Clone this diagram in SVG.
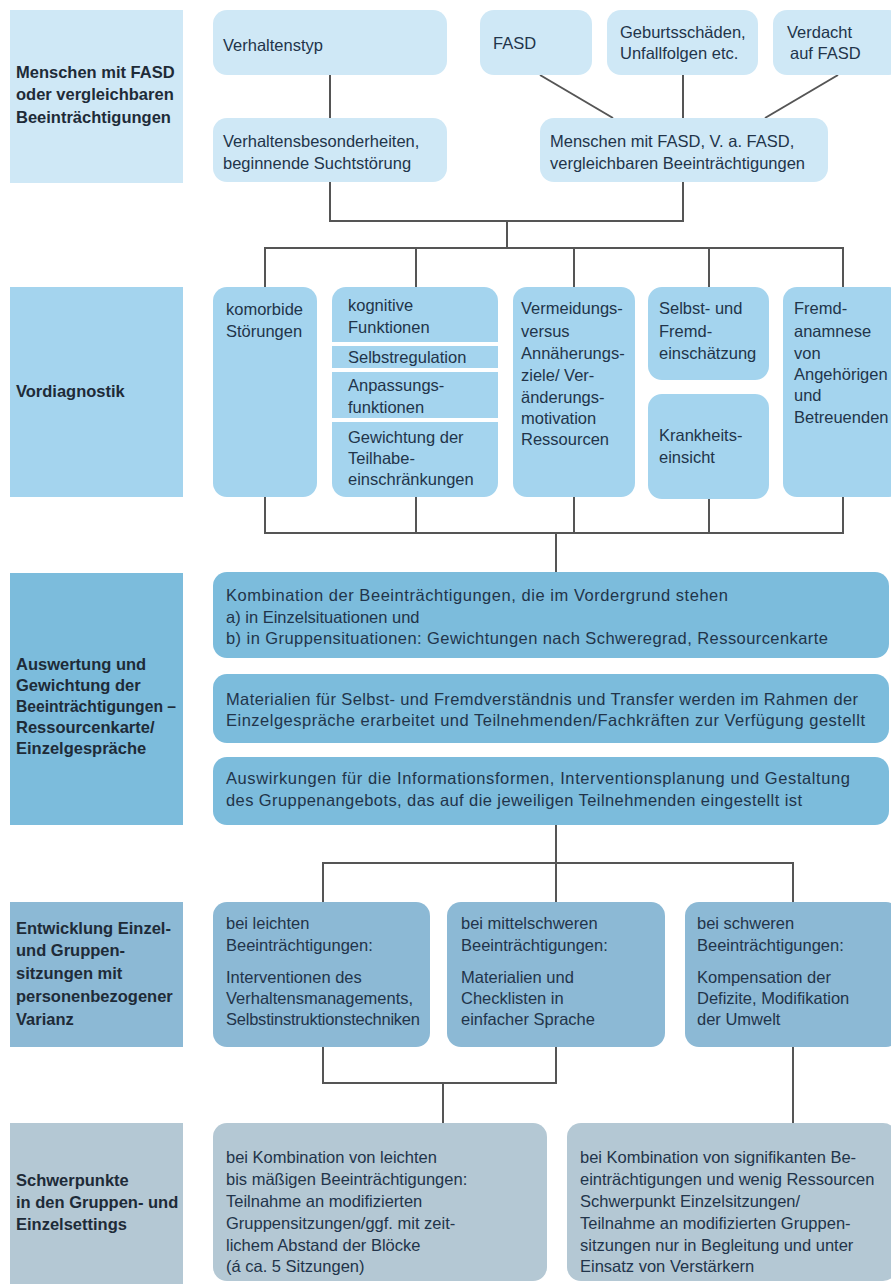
<svg xmlns="http://www.w3.org/2000/svg" width="891" height="1284" viewBox="0 0 891 1284">
<style>
text{font-family:"Liberation Sans",Arial,sans-serif;font-size:16.5px;fill:#22344a}
.b{font-weight:bold;fill:#1e2b38}
.s1{fill:#cfe8f6}.s2{fill:#a4d4ee}.s3{fill:#7cbcdc}.s4{fill:#8cb9d5}.s5{fill:#b4c8d4}
.c{fill:none;stroke:#555;stroke-width:2}
.w{fill:#ffffff}
</style>
<rect width="891" height="1284" fill="#ffffff"/>
<g id="connectors" class="c">
<path d="M330 75V118"/>
<path d="M540 75L613 118"/>
<path d="M683 75V118"/>
<path d="M838 75L765 118"/>
<path d="M330 182V221H683V182"/>
<path d="M507 221V248"/>
<path d="M265 287V248H843V287"/>
<path d="M416 248V287M574 248V287M709 248V287"/>
<path d="M265 497V533H843V497"/>
<path d="M416 497V533M574 497V533M709 499V533"/>
<path d="M556 533V572"/>
<path d="M556 825V863"/>
<path d="M323 902V863H793V902"/>
<path d="M556 863V902"/>
<path d="M323 1047V1083H556V1047"/>
<path d="M443 1083V1123"/>
<path d="M793 1047V1123"/>
</g>
<g id="label1"><rect class="s1" x="10" y="10" width="173" height="173"/>
<text class="b" x="16" y="78">Menschen mit FASD</text>
<text class="b" x="16" y="100">oder vergleichbaren</text>
<text class="b" x="16" y="123">Beeinträchtigungen</text></g>
<g id="verhaltenstyp"><rect class="s1" x="213" y="10" width="234" height="65" rx="14"/>
<text x="223" y="51">Verhaltenstyp</text></g>
<g id="verhaltensbesonderheiten"><rect class="s1" x="213" y="118" width="234" height="64" rx="14"/>
<text x="223" y="147">Verhaltensbesonderheiten,</text>
<text x="223" y="169">beginnende Suchtstörung</text></g>
<g id="fasd"><rect class="s1" x="480" y="10" width="112" height="65" rx="14"/>
<text x="493" y="49">FASD</text></g>
<g id="geburtsschaeden"><rect class="s1" x="607" y="10" width="151" height="65" rx="14"/>
<text x="620" y="38">Geburtsschäden,</text>
<text x="620" y="59">Unfallfolgen etc.</text></g>
<g id="verdacht"><rect class="s1" x="773" y="10" width="130" height="65" rx="14"/>
<text x="787" y="38">Verdacht</text>
<text x="790" y="59">auf FASD</text></g>
<g id="menschen"><rect class="s1" x="540" y="118" width="288" height="64" rx="14"/>
<text x="550" y="147">Menschen mit FASD, V. a. FASD,</text>
<text x="550" y="169">vergleichbaren Beeinträchtigungen</text></g>

<g id="label2"><rect class="s2" x="10" y="287" width="173" height="210"/>
<text class="b" x="16" y="397">Vordiagnostik</text></g>
<g id="komorbide"><rect class="s2" x="213" y="287" width="104" height="210" rx="14"/>
<text x="226" y="315">komorbide</text>
<text x="226" y="337">Störungen</text></g>
<g id="kognitive"><rect class="s2" x="332" y="287" width="166" height="210" rx="14"/>
<rect class="w" x="332" y="342" width="166" height="4"/>
<rect class="w" x="332" y="368" width="166" height="4"/>
<rect class="w" x="332" y="418" width="166" height="4"/>
<text x="348" y="311">kognitive</text>
<text x="348" y="333">Funktionen</text>
<text x="348" y="363">Selbstregulation</text>
<text x="348" y="391">Anpassungs-</text>
<text x="348" y="413">funktionen</text>
<text x="348" y="443">Gewichtung der</text>
<text x="348" y="464">Teilhabe-</text>
<text x="348" y="485">einschränkungen</text></g>
<g id="vermeidung"><rect class="s2" x="513" y="287" width="122" height="210" rx="14"/>
<text x="521" y="314">Vermeidungs-</text>
<text x="521" y="337">versus</text>
<text x="521" y="359">Annäherungs-</text>
<text x="521" y="381">ziele/ Ver-</text>
<text x="521" y="403">änderungs-</text>
<text x="521" y="424">motivation</text>
<text x="521" y="445">Ressourcen</text></g>
<g id="selbst"><rect class="s2" x="648" y="287" width="121" height="93" rx="14"/>
<text x="659" y="314">Selbst- und</text>
<text x="659" y="337">Fremd-</text>
<text x="659" y="359">einschätzung</text></g>
<g id="krankheit"><rect class="s2" x="648" y="394" width="121" height="105" rx="14"/>
<text x="659" y="441">Krankheits-</text>
<text x="659" y="463">einsicht</text></g>
<g id="fremd"><rect class="s2" x="783" y="287" width="120" height="210" rx="14"/>
<text x="794" y="314">Fremd-</text>
<text x="794" y="337">anamnese</text>
<text x="794" y="359">von</text>
<text x="794" y="380">Angehörigen</text>
<text x="794" y="401">und</text>
<text x="794" y="423">Betreuenden</text></g>

<g id="label3"><rect class="s3" x="10" y="573" width="173" height="252"/>
<text class="b" x="16" y="670">Auswertung und</text>
<text class="b" x="16" y="691">Gewichtung der</text>
<text class="b" x="16" y="712" textLength="160" lengthAdjust="spacingAndGlyphs">Beeinträchtigungen –</text>
<text class="b" x="16" y="733">Ressourcenkarte/</text>
<text class="b" x="16" y="754">Einzelgespräche</text></g>
<g id="kombination"><rect class="s3" x="213" y="572" width="676" height="86" rx="14"/>
<text x="226" y="601" textLength="502">Kombination der Beeinträchtigungen, die im Vordergrund stehen</text>
<text x="226" y="623">a) in Einzelsituationen und</text>
<text x="226" y="644" textLength="602">b) in Gruppensituationen: Gewichtungen nach Schweregrad, Ressourcenkarte</text></g>
<g id="materialien"><rect class="s3" x="213" y="674" width="676" height="69" rx="14"/>
<text x="226" y="705" textLength="632">Materialien für Selbst- und Fremdverständnis und Transfer werden im Rahmen der</text>
<text x="226" y="726" textLength="639">Einzelgespräche erarbeitet und Teilnehmenden/Fachkräften zur Verfügung gestellt</text></g>
<g id="auswirkungen"><rect class="s3" x="213" y="757" width="676" height="68" rx="14"/>
<text x="226" y="784" textLength="624">Auswirkungen für die Informationsformen, Interventionsplanung und Gestaltung</text>
<text x="226" y="806" textLength="576">des Gruppenangebots, das auf die jeweiligen Teilnehmenden eingestellt ist</text></g>

<g id="label4"><rect class="s4" x="10" y="902" width="173" height="145"/>
<text class="b" x="16" y="934">Entwicklung Einzel-</text>
<text class="b" x="16" y="956">und Gruppen-</text>
<text class="b" x="16" y="979">sitzungen mit</text>
<text class="b" x="16" y="1002">personenbezogener</text>
<text class="b" x="16" y="1025">Varianz</text></g>
<g id="leicht"><rect class="s4" x="213" y="902" width="217" height="145" rx="14"/>
<text x="226" y="929">bei leichten</text>
<text x="226" y="951">Beeinträchtigungen:</text>
<text x="226" y="983">Interventionen des</text>
<text x="226" y="1004">Verhaltensmanagements,</text>
<text x="226" y="1025" textLength="194">Selbstinstruktionstechniken</text></g>
<g id="mittel"><rect class="s4" x="447" y="902" width="218" height="145" rx="14"/>
<text x="461" y="929">bei mittelschweren</text>
<text x="461" y="951">Beeinträchtigungen:</text>
<text x="461" y="983">Materialien und</text>
<text x="461" y="1004">Checklisten in</text>
<text x="461" y="1025">einfacher Sprache</text></g>
<g id="schwer"><rect class="s4" x="685" y="902" width="215" height="145" rx="14"/>
<text x="697" y="929">bei schweren</text>
<text x="697" y="951">Beeinträchtigungen:</text>
<text x="697" y="983">Kompensation der</text>
<text x="697" y="1004">Defizite, Modifikation</text>
<text x="697" y="1025">der Umwelt</text></g>

<g id="label5"><rect class="s5" x="10" y="1123" width="173" height="170"/>
<text class="b" x="16" y="1186">Schwerpunkte</text>
<text class="b" x="16" y="1208">in den Gruppen- und</text>
<text class="b" x="16" y="1230">Einzelsettings</text></g>
<g id="kombi-leicht"><rect class="s5" x="213" y="1123" width="334" height="158" rx="14"/>
<text x="226" y="1163">bei Kombination von leichten</text>
<text x="226" y="1185">bis mäßigen Beeinträchtigungen:</text>
<text x="226" y="1207">Teilnahme an modifizierten</text>
<text x="226" y="1229">Gruppensitzungen/ggf. mit zeit-</text>
<text x="226" y="1251">lichem Abstand der Blöcke</text>
<text x="226" y="1272">(á ca. 5 Sitzungen)</text></g>
<g id="kombi-schwer"><rect class="s5" x="567" y="1123" width="330" height="158" rx="14"/>
<text x="580" y="1163">bei Kombination von signifikanten Be-</text>
<text x="580" y="1185">einträchtigungen und wenig Ressourcen</text>
<text x="580" y="1207">Schwerpunkt Einzelsitzungen/</text>
<text x="580" y="1229">Teilnahme an modifizierten Gruppen-</text>
<text x="580" y="1251">sitzungen nur in Begleitung und unter</text>
<text x="580" y="1272">Einsatz von Verstärkern</text></g>
</svg>
